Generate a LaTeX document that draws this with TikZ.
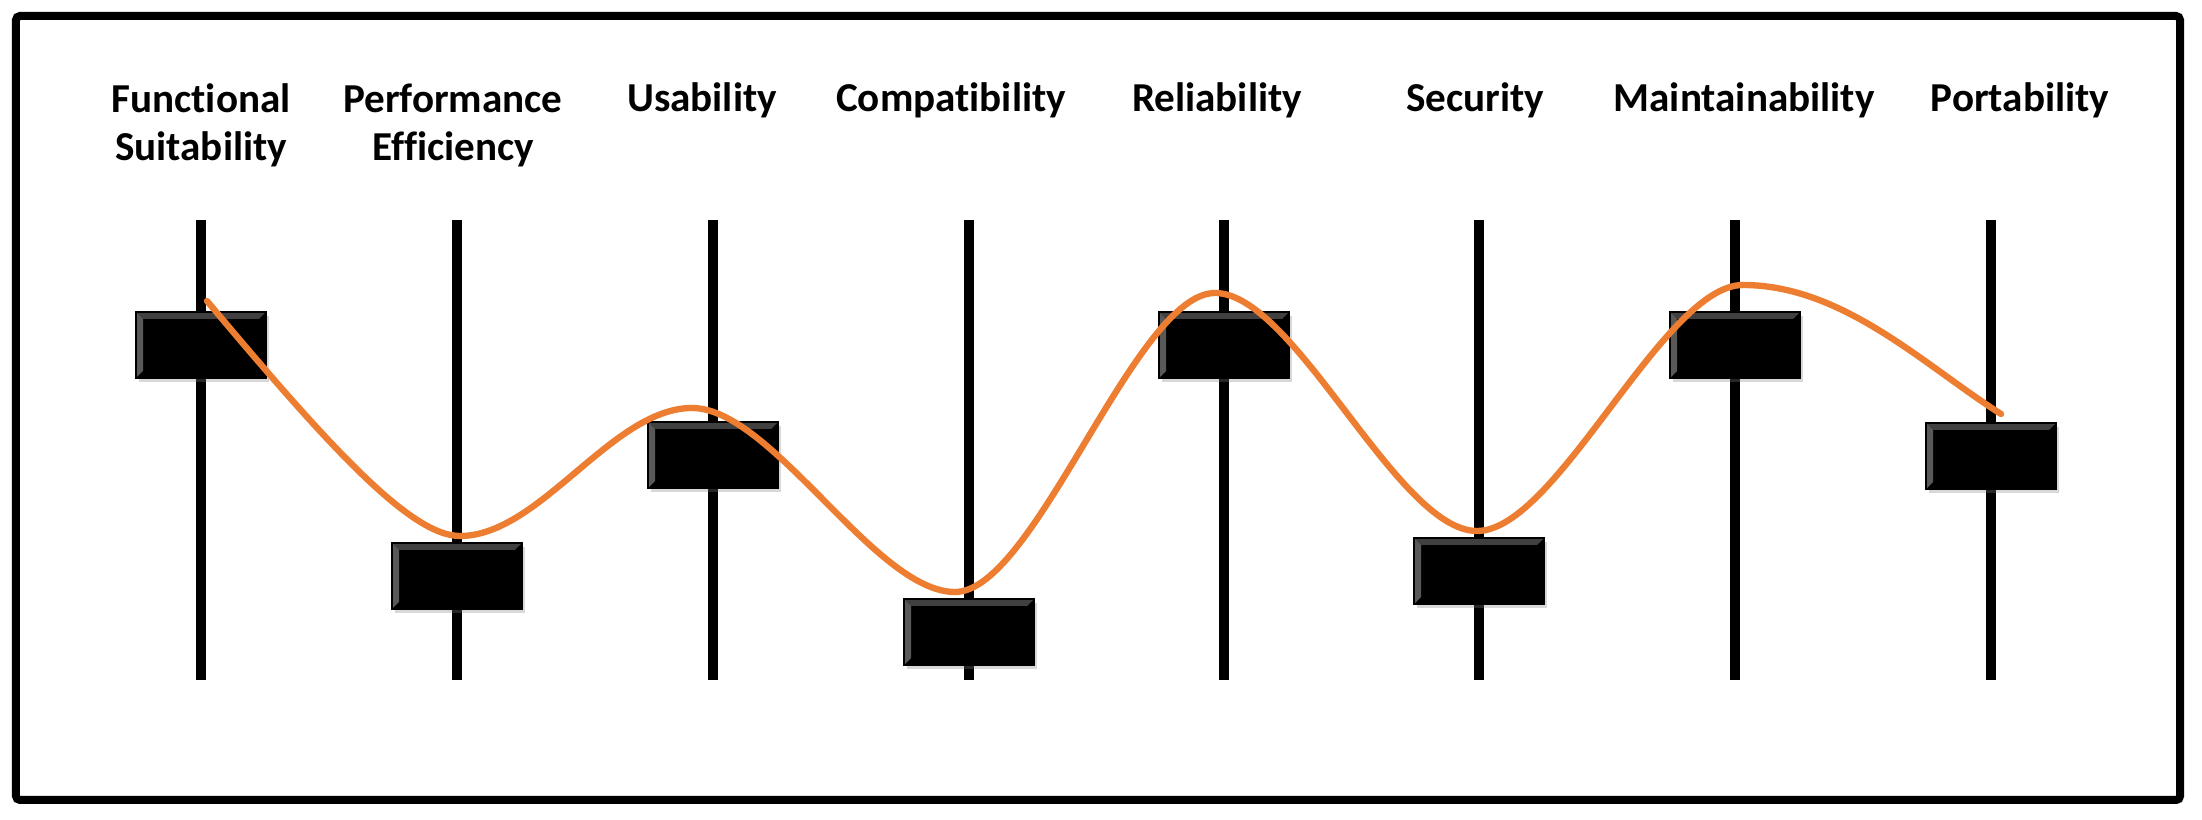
\documentclass[tikz,border=0pt]{standalone}
\usepackage{fontspec}
\setmainfont[Ligatures={NoCommon}]{Carlito}
\usepackage{tikz}
\usetikzlibrary{shadows}
\definecolor{curveorange}{RGB}{237,125,49}

\begin{document}
\begin{tikzpicture}[
  frame/.style={draw=black, line width=0.08cm, rounded corners=0.04cm, fill=white,
    inner sep=0pt, drop shadow={opacity=0.25, shadow xshift=1pt, shadow yshift=-1pt}},
  rail/.style={line width=0.1cm},
  knob/.style={draw=black, line width=0.4pt, fill=black, inner sep=0pt,
    minimum width=1.3cm, minimum height=0.66cm,
    drop shadow={opacity=0.3, shadow xshift=0.8pt, shadow yshift=-1.2pt},
    path picture={
      \fill[black!75] (path picture bounding box.north west) -- (path picture bounding box.north east)
        -- ++(-0.07,-0.07) -- ++(-1.16,0) -- cycle;
      \fill[black!65] (path picture bounding box.north west) -- ++(0.07,-0.07)
        -- ++(0,-0.52) -- (path picture bounding box.south west) -- cycle;
    }},
  title/.style={font=\bfseries\fontsize{11.7}{13.9}\selectfont, align=center,
    anchor=base, inner sep=0pt},
  curve/.style={curveorange, line width=1.8pt, line cap=round}
]
  \useasboundingbox (0,0) rectangle (22.02,8.20);
  % outer frame
  \node[frame, minimum width=21.64cm, minimum height=7.84cm] (frame) at (10.98,4.12) {};
  % slider rails
  \coordinate (t1) at (2.01,6.00);  \coordinate (b1) at (2.01,1.40);
  \coordinate (t2) at (4.57,6.00);  \coordinate (b2) at (4.57,1.40);
  \coordinate (t3) at (7.13,6.00);  \coordinate (b3) at (7.13,1.40);
  \coordinate (t4) at (9.69,6.00);  \coordinate (b4) at (9.69,1.40);
  \coordinate (t5) at (12.24,6.00); \coordinate (b5) at (12.24,1.40);
  \coordinate (t6) at (14.79,6.00); \coordinate (b6) at (14.79,1.40);
  \coordinate (t7) at (17.35,6.00); \coordinate (b7) at (17.35,1.40);
  \coordinate (t8) at (19.91,6.00); \coordinate (b8) at (19.91,1.40);
  \draw[rail] (t1) -- (b1);
  \draw[rail] (t2) -- (b2);
  \draw[rail] (t3) -- (b3);
  \draw[rail] (t4) -- (b4);
  \draw[rail] (t5) -- (b5);
  \draw[rail] (t6) -- (b6);
  \draw[rail] (t7) -- (b7);
  \draw[rail] (t8) -- (b8);
  % slider knobs
  \node[knob] (func) at (2.01,4.75) {};
  \node[knob] (perf) at (4.57,2.44) {};
  \node[knob] (usab) at (7.13,3.65) {};
  \node[knob] (comp) at (9.69,1.88) {};
  \node[knob] (reli) at (12.24,4.75) {};
  \node[knob] (secu) at (14.79,2.49) {};
  \node[knob] (main) at (17.35,4.75) {};
  \node[knob] (port) at (19.91,3.64) {};
  % profile curve through the settings
  \coordinate (c0) at (2.07,5.19);
  \coordinate (c1) at (4.60,2.84);
  \coordinate (c2) at (6.92,4.12);
  \coordinate (c3) at (9.55,2.28);
  \coordinate (c4) at (12.15,5.27);
  \coordinate (c5) at (14.77,2.89);
  \coordinate (c6) at (17.43,5.35);
  \coordinate (c7) at (20.01,4.06);
  \draw[curve] (c0) .. controls +(1.2,-1.43) and +(-0.5,0) .. (c1)
    .. controls +(0.8,0) and +(-0.8,0) .. (c2)
    .. controls +(0.8,0) and +(-0.8,0) .. (c3)
    .. controls +(0.8,0) and +(-0.8,0) .. (c4)
    .. controls +(0.8,0) and +(-0.8,0) .. (c5)
    .. controls +(0.8,0) and +(-0.8,0) .. (c6)
    .. controls +(1.0,0) and +(-0.76,0.48) .. (c7);
  % titles (two-line ones sit on their second baseline)
  \node[title] (lfunc) at (2.01,6.59) {Functional\\Suitability};
  \node[title] (lperf) at (4.53,6.59) {Performance\\Efficiency};
  \node[title] (lusab) at (7.02,7.08) {Usability};
  \node[title] (lcomp) at (9.51,7.08) {Compatibility};
  \node[title] (lreli) at (12.17,7.08) {Reliability};
  \node[title] (lsecu) at (14.75,7.08) {Security};
  \node[title] (lmain) at (17.44,7.08) {Maintainability};
  \node[title] (lport) at (20.20,7.08) {Portability};
\end{tikzpicture}
\end{document}
